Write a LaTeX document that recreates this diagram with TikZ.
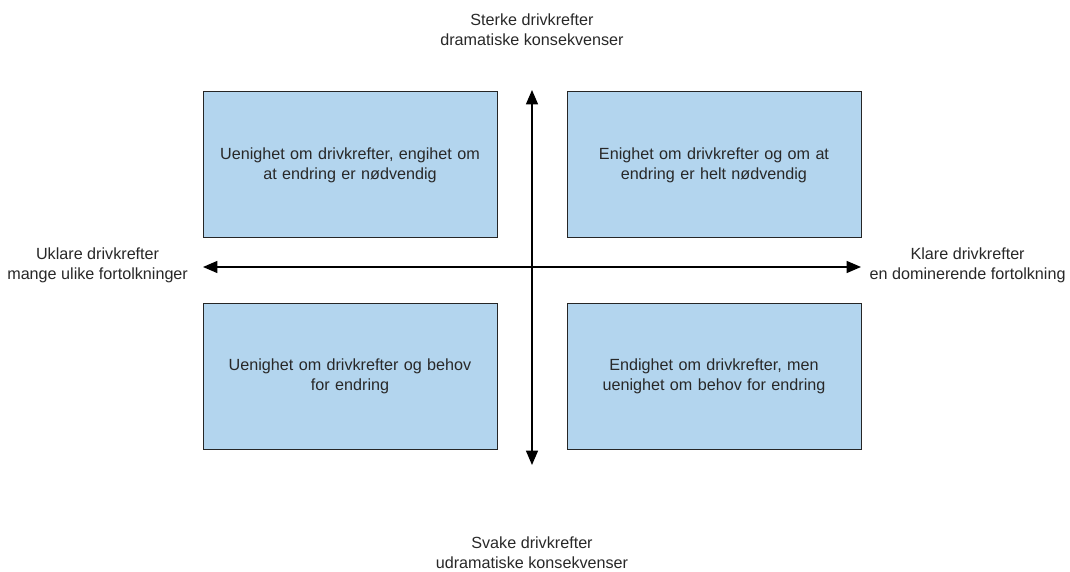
\documentclass[tikz,border=0pt]{standalone}
\usepackage{fontspec}
\setmainfont{Liberation Sans}
\usetikzlibrary{arrows.meta}
\definecolor{quad_blue}{RGB}{179, 213, 238}
\definecolor{text_gray}{RGB}{40, 40, 40}
\tikzset{
  quad/.style={draw=black!85, line width=0.7pt, fill=quad_blue, minimum width=7.35cm, minimum height=3.65cm, text width=7cm, align=center, text=text_gray},
  axis/.style={line width=1pt, {Triangle[length=3.6mm, width=3mm]}-{Triangle[length=3.6mm, width=3mm]}},
  lbl/.style={align=center, text=text_gray}
}
\begin{document}
\begin{tikzpicture}[font=\fontsize{11.5}{14.4}\selectfont]
\useasboundingbox (0,0) rectangle (26.75,14.3);
% quadrants
\node[quad] (tl) at (8.75,10.175) {Uenighet om drivkrefter, engihet om\\at endring er nødvendig};
\node[quad] (tr) at (17.85,10.175) {Enighet om drivkrefter og om at\\endring er helt nødvendig};
\node[quad] (bl) at (8.75,4.8875) {Uenighet om drivkrefter og behov\\for endring};
\node[quad] (br) at (17.85,4.8875) {Endighet om drivkrefter, men\\uenighet om behov for endring};
% axes
\coordinate (up) at (13.3,12.05);
\coordinate (down) at (13.3,2.675);
\coordinate (left) at (5.075,7.625);
\coordinate (right) at (21.525,7.625);
\draw[axis] (down) -- (up);
\draw[axis] (left) -- (right);
% axis labels
\node[lbl] (strong) at (13.3,13.55) {Sterke drivkrefter\\dramatiske konsekvenser};
\node[lbl] (weak) at (13.3,0.475) {Svake drivkrefter\\udramatiske konsekvenser};
\node[lbl] (unclear) at (2.44,7.675) {Uklare drivkrefter\\mange ulike fortolkninger};
\node[lbl] (clear) at (24.19,7.675) {Klare drivkrefter\\en dominerende fortolkning};
\end{tikzpicture}
\end{document}
